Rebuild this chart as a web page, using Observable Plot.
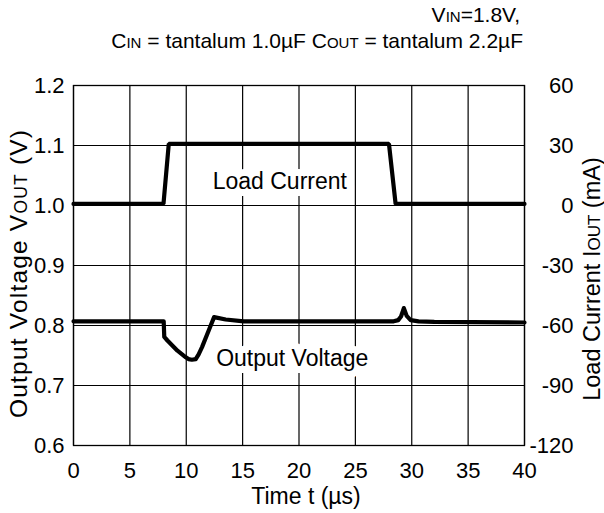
<!DOCTYPE html>
<html><head><meta charset="utf-8">
<script src="https://cdn.jsdelivr.net/npm/d3@7"></script>
<script src="https://cdn.jsdelivr.net/npm/@observablehq/plot@0.6"></script>
<style>body{margin:0;background:#fff;}</style>
</head><body><div id="chart"></div>
<script>
// ---- data ----
const timeTicks = [0, 5, 10, 15, 20, 25, 30, 35, 40];
const voltTicks = [0.6, 0.7, 0.8, 0.9, 1.0, 1.1, 1.2];
const currentTicks = [-120, -90, -60, -30, 0, 30, 60];

const loadTime = [0, 7.98, 8.45, 27.98, 28.57, 40];
const loadCurrent = [0.8, 0.8, 30.8, 30.8, 0.8, 0.8]; // mA

const voutTime = [0, 8.0, 8.05, 8.33, 9.22, 9.96, 10.2, 10.5, 10.84, 11.1, 11.4, 12.0, 12.47, 13.5, 15.1, 20, 28.4, 28.8, 29.05, 29.3, 29.55, 29.9, 30.6, 32, 40];
const voutValue = [0.807, 0.807, 0.781, 0.775, 0.758, 0.747, 0.744, 0.743, 0.744, 0.752, 0.764, 0.792, 0.814, 0.810, 0.807, 0.807, 0.807, 0.809, 0.815, 0.829, 0.816, 0.809, 0.807, 0.806, 0.805];

const labelText = ["Load Current", "Output Voltage"];
const labelTime = [18.3, 19.4];
const labelVolt = [1.039, 0.745];

// current (mA) to the voltage scale: 0 mA = 1.0 V, 30 mA per 0.1 V
const toV = (i) => 1.0 + i / 300;
const toI = (v) => Math.round((v - 1.0) * 300);

const loadData = loadTime.map((t, k) => ({t, v: toV(loadCurrent[k])}));
const voutData = voutTime.map((t, k) => ({t, v: voutValue[k]}));
const labelData = labelText.map((s, k) => ({s, t: labelTime[k], v: labelVolt[k]}));

const FONT = "'Liberation Sans', Arial, Helvetica, sans-serif";

const plot = Plot.plot({
  width: 604, height: 513,
  marginTop: 85, marginBottom: 68, marginLeft: 73, marginRight: 80,
  x: {domain: [0, 40]},
  y: {domain: [0.6, 1.2]},
  style: {fontFamily: FONT, fontSize: "22px", color: "#000", background: "#fff"},
  marks: [
    Plot.gridX(timeTicks, {stroke: "#000", strokeOpacity: 1, strokeWidth: 1.2}),
    Plot.gridY(voltTicks, {stroke: "#000", strokeOpacity: 1, strokeWidth: 1.2}),
    Plot.frame({stroke: "#000", strokeWidth: 1.3}),
    Plot.axisX(timeTicks, {tickSize: 0, tickPadding: 17, label: null, tickFormat: d => String(d)}),
    Plot.axisY(voltTicks, {tickSize: 0, tickPadding: 9, label: null, tickFormat: d => d.toFixed(1)}),
    Plot.axisY(currentTicks.map(toV), {anchor: "right", tickSize: 0, tickPadding: 49, textAnchor: "end", label: null, tickFormat: v => String(toI(v))}),
    Plot.text(labelData, {x: "t", y: "v", text: "s", fill: "#000", stroke: "#fff", strokeWidth: 14, fontSize: 23}),
    Plot.line(loadData, {x: "t", y: "v", stroke: "#000", strokeWidth: 4.2, strokeLinejoin: "miter"}),
    Plot.line(voutData, {x: "t", y: "v", stroke: "#000", strokeWidth: 4.2, strokeLinejoin: "round"})
  ]
});
document.getElementById("chart").appendChild(plot);

// titles & axis labels with small-caps subscripts
const svg = d3.select(plot);
function richText(g, parts, small) {
  parts.forEach(([txt, sub]) => {
    g.append("tspan").attr("font-size", sub ? small : null).text(txt);
  });
}
const t1 = svg.append("text").attr("x", 520).attr("y", 22).attr("text-anchor", "end")
  .attr("font-family", FONT).attr("font-size", 21).attr("fill", "#000");
richText(t1, [["V"], ["IN", true], ["=1.8V,"]], 15);
const t2 = svg.append("text").attr("x", 523).attr("y", 48).attr("text-anchor", "end")
  .attr("font-family", FONT).attr("font-size", 21).attr("fill", "#000");
richText(t2, [["C"], ["IN", true], [" = tantalum 1.0\u00b5F C"], ["OUT", true], [" = tantalum 2.2\u00b5F"]], 15);

const yl = svg.append("text").attr("transform", "translate(27,274) rotate(-90)").attr("text-anchor", "middle")
  .attr("font-family", FONT).attr("font-size", 24.5).attr("fill", "#000")
  .attr("textLength", 288).attr("lengthAdjust", "spacing");
richText(yl, [["Output Voltage V"], ["OUT", true], [" (V)"]], 17.5);
const yr = svg.append("text").attr("transform", "translate(600,279) rotate(-90)").attr("text-anchor", "middle")
  .attr("font-family", FONT).attr("font-size", 23.5).attr("fill", "#000");
richText(yr, [["Load Current I"], ["OUT", true], [" (mA)"]], 17);
const xl = svg.append("text").attr("x", 306).attr("y", 504).attr("text-anchor", "middle")
  .attr("font-family", FONT).attr("font-size", 23).attr("fill", "#000");
richText(xl, [["Time t (\u00b5s)"]], 17);
</script>
</body></html>
